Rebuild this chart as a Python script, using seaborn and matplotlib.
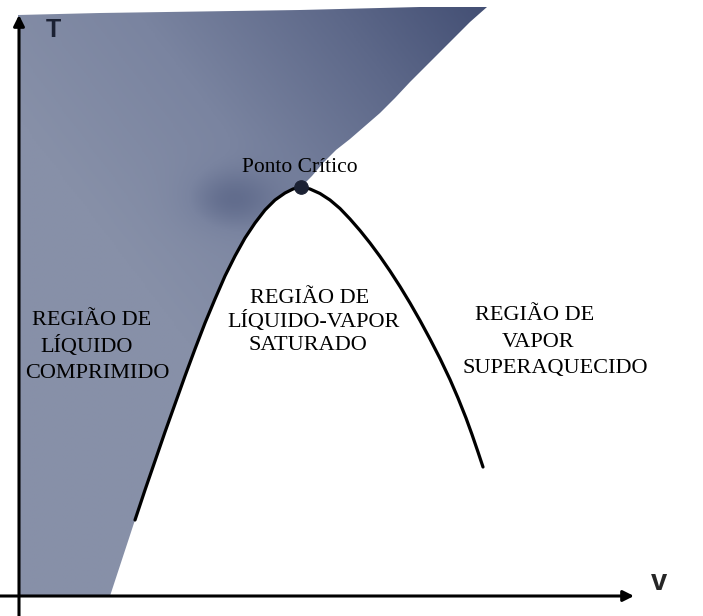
import numpy as np
import pandas as pd
import matplotlib
matplotlib.use("Agg")
import matplotlib.pyplot as plt
from matplotlib.patches import Polygon
from matplotlib.colors import LinearSegmentedColormap
import seaborn as sns

sns.set_style("white")

# Saturation dome (v, T) in arbitrary units
v_liq = [116, 126, 136, 146, 156, 166, 176, 186, 196, 206, 216, 226, 236,
         246, 256, 266, 274]
T_liq = [76, 106, 135, 164, 192, 220, 247, 273, 297, 320, 340, 358, 373,
         386, 396, 403, 407]
v_crit = [282]
T_crit = [409]
v_vap = [291, 301, 311, 321, 331, 341, 351, 361, 371, 381, 391, 401, 411,
         421, 431, 439, 447, 453, 459, 464]
T_vap = [407, 402.5, 396, 387.5, 377, 365.5, 353, 339.5, 325, 309.5, 293,
         275.5, 257, 237.5, 216.5, 198, 178, 161.5, 144, 129]

# Compressed-liquid (shaded) region outline
v_reg_top = [-1, -1, 81, 281, 401, 468, 451, 436, 421, 406, 391, 376, 361,
             346, 331, 317, 304, 293]
T_reg_top = [0, 581, 583, 586, 589, 589, 574, 559, 544, 529, 514, 498, 483,
             470, 457, 446, 433, 420]
v_reg_bottom = [91]
T_reg_bottom = [0]

labels = {
    "liq": ["REGIÃO DE", "LÍQUIDO", "COMPRIMIDO"],
    "mix": ["REGIÃO DE", "LÍQUIDO-VAPOR", "SATURADO"],
    "vap": ["REGIÃO DE", "VAPOR", "SUPERAQUECIDO"],
}
crit_label = "Ponto Crítico"

fig = plt.figure(figsize=(7.03, 6.16), dpi=100)
ax = fig.add_axes([0, 0, 1, 1])
ax.set_xlim(-19, 684)
ax.set_ylim(-20, 596)
ax.axis("off")

# shaded region with gradient
poly_v = v_reg_top + v_crit + v_liq[::-1] + v_reg_bottom
poly_T = T_reg_top + T_crit + T_liq[::-1] + T_reg_bottom
patch = Polygon(np.column_stack([poly_v, poly_T]), closed=True,
                facecolor="none", edgecolor="none")
ax.add_patch(patch)
cmap = LinearSegmentedColormap.from_list(
    "g", ["#8790a8", "#7a84a0", "#5d6889", "#3c486e"])
gx = np.linspace(-5, 480, 250)
gy = np.linspace(-5, 595, 250)
GX, GY = np.meshgrid(gx, gy)
G = np.clip(0.8 * GX / 480 + 0.75 * GY / 595 - 0.6, 0, 1)
blob = 0.35 * np.exp(-(((GX - 211) / 45) ** 2 + ((GY - 396) / 30) ** 2))
G = np.clip(G + blob, 0, 1)
im = ax.imshow(G, extent=[-5, 480, -5, 595], origin="lower", cmap=cmap,
               vmin=0, vmax=1, aspect="auto", zorder=1)
im.set_clip_path(patch)

# dome curve
dome = pd.DataFrame({
    "v": v_liq + v_crit + v_vap,
    "T": T_liq + T_crit + T_vap,
})
sns.lineplot(data=dome, x="v", y="T", sort=False, color="black",
             lw=2.3, ax=ax, zorder=3)
sns.scatterplot(x=v_crit, y=T_crit, s=95, color="#1b2133",
                edgecolor="#1b2133", ax=ax, zorder=4)
ax.set_xlim(-19, 684)
ax.set_ylim(-20, 596)
ax.set_xlabel("")
ax.set_ylabel("")

# axes arrows
arrow = dict(arrowstyle="-|>", lw=2.2, color="black", mutation_scale=16,
             shrinkA=0, shrinkB=0)
ax.annotate("", xy=(0, 581), xytext=(0, -20), arrowprops=arrow, zorder=5)
ax.annotate("", xy=(615, 0), xytext=(-19, 0), arrowprops=arrow, zorder=5)
ax.text(34, 559, "T", fontsize=18, fontweight="bold",
        family="Liberation Sans", ha="center", va="baseline", color="#1b2133")
ax.text(640, 6, "v", fontsize=21, fontweight="bold",
        family="Liberation Sans", ha="center", va="baseline")

serif = dict(fontsize=16.0, family="Liberation Serif", va="baseline",
             ha="left", color="black", zorder=6)
for txt, x, y in zip(labels["liq"], [13, 21, 6], [271, 244, 218]):
    ax.text(x, y, txt, **serif)
for txt, x, y in zip(labels["mix"], [231, 208, 229], [293, 269, 246]):
    ax.text(x, y, txt, **serif)
for txt, x, y in zip(labels["vap"], [456, 483, 443], [276, 249, 223]):
    ax.text(x, y, txt, **serif)
ax.text(223, 424, crit_label, **{**serif, "fontsize": 15.5})

fig.savefig("out.png", dpi=100)
